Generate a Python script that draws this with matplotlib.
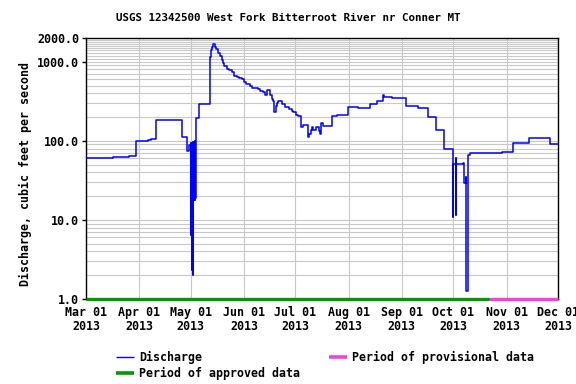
import pandas as pd
import matplotlib
matplotlib.use('Agg')
import matplotlib.pyplot as plt
import matplotlib.dates as mdates
from matplotlib.lines import Line2D
from matplotlib.ticker import FixedLocator, NullFormatter

# Discharge readings (time, cfs), drawn as steps
times = [
    "2013-03-01", "2013-03-17", "2013-03-21", "2013-03-22", "2013-03-24", "2013-03-25",
    "2013-03-26", "2013-03-30", "2013-04-06", "2013-04-08", "2013-04-11", "2013-04-26",
    "2013-04-29", "2013-04-30",
    # noisy gage readings, May 1-3
    "2013-05-01 00:00", "2013-05-01 01:00", "2013-05-01 02:00", "2013-05-01 04:00",
    "2013-05-01 06:00", "2013-05-01 08:00", "2013-05-01 10:00", "2013-05-01 12:00",
    "2013-05-01 14:00", "2013-05-01 16:00", "2013-05-01 18:00", "2013-05-01 20:00",
    "2013-05-01 21:00", "2013-05-01 23:00", "2013-05-02 01:00", "2013-05-02 03:00",
    "2013-05-02 05:00", "2013-05-02 07:00", "2013-05-02 09:00", "2013-05-02 11:00",
    "2013-05-02 13:00", "2013-05-02 15:00", "2013-05-02 17:00", "2013-05-02 19:00",
    "2013-05-02 21:00", "2013-05-02 23:00", "2013-05-03 01:00", "2013-05-03 03:00",
    "2013-05-03 05:00", "2013-05-03 07:00", "2013-05-03 09:00", "2013-05-03 11:00",
    "2013-05-03 13:00", "2013-05-03 15:00", "2013-05-03 17:00", "2013-05-03 19:00",
    "2013-05-03 21:00", "2013-05-04 00:00",
    "2013-05-06", "2013-05-07", "2013-05-12", "2013-05-12 20:00", "2013-05-13 14:00",
    "2013-05-14 06:00", "2013-05-15 06:00", "2013-05-15 20:00", "2013-05-16 16:00",
    "2013-05-18", "2013-05-19", "2013-05-20", "2013-05-20 14:00", "2013-05-22",
    "2013-05-23 12:00", "2013-05-25", "2013-05-26 06:00", "2013-05-27 20:00",
    "2013-05-29 06:00", "2013-05-30 16:00", "2013-06-01", "2013-06-02", "2013-06-04 14:00",
    "2013-06-06", "2013-06-09 10:00", "2013-06-10 10:00", "2013-06-12 06:00",
    "2013-06-13 06:00", "2013-06-14 06:00", "2013-06-16 06:00", "2013-06-17 06:00",
    "2013-06-18", "2013-06-18 16:00", "2013-06-19 12:00", "2013-06-20", "2013-06-21",
    "2013-06-23", "2013-06-25", "2013-06-27 12:00", "2013-06-28 20:00", "2013-06-29 20:00",
    "2013-07-01 10:00", "2013-07-02 16:00", "2013-07-04", "2013-07-05 16:00",
    "2013-07-08 14:00", "2013-07-09 04:00", "2013-07-10", "2013-07-10 20:00",
    "2013-07-11 12:00", "2013-07-12 20:00", "2013-07-15", "2013-07-15 10:00",
    "2013-07-15 20:00", "2013-07-17", "2013-07-22 04:00", "2013-07-25",
    "2013-07-31 20:00", "2013-08-06 16:00", "2013-08-13 12:00", "2013-08-17 10:00",
    "2013-08-21 06:00", "2013-08-21 12:00", "2013-08-26", "2013-08-31", "2013-09-03 12:00",
    "2013-09-10 16:00", "2013-09-16", "2013-09-21", "2013-09-25 14:00", "2013-09-27",
    "2013-10-01 00:00", "2013-10-01 02:00", "2013-10-02 14:00", "2013-10-02 16:00",
    "2013-10-02 18:00", "2013-10-06 12:00", "2013-10-07 12:00", "2013-10-08 12:00",
    "2013-10-08 14:00", "2013-10-09 18:00", "2013-10-09 20:00", "2013-10-10 12:00",
    "2013-10-29 06:00", "2013-11-05", "2013-11-13 20:00", "2013-11-26 10:00", "2013-12-01",
]
cfs = [
    60, 62, 63, 62, 63, 62,
    64, 101, 104, 107, 185, 113,
    75, 88,
    90, 6.5, 88, 22,
    94, 20, 92, 24,
    95, 21, 90, 2.3,
    91, 19, 93, 2.0,
    89, 20, 96, 2.1,
    94, 19, 97, 21,
    95, 18, 98, 20,
    96, 19, 99, 18,
    97, 22, 95, 19,
    96, 193,
    290, 295, 1160, 1410, 1560,
    1660, 1550, 1450, 1300,
    1200, 1060, 970, 890, 820,
    780, 750, 660, 648,
    620, 600, 560, 530, 500,
    462, 455, 430, 410,
    380, 440, 380, 340,
    315, 232, 275, 305, 322,
    295, 266, 255, 242, 230,
    215, 208, 148, 158,
    113, 122, 137, 148,
    137, 150, 133, 122,
    170, 155, 208, 215,
    270, 258, 292, 319,
    380, 362, 352, 345, 276,
    258, 199, 137, 80, 78,
    10.8, 51, 60, 11.5,
    51, 52, 29, 35,
    1.27, 1.65, 67, 70,
    72, 93, 108, 90, 90,
]

approved = ("2013-03-01", "2013-10-22")
provisional = ("2013-10-22", "2013-12-01")

month_ticks = pd.date_range("2013-03-01", "2013-12-01", freq="MS")
y_major = [1, 10, 100, 1000, 2000]
y_major_labels = ["1.0", "10.0", "100.0", "1000.0", "2000.0"]
y_minor = [m * 10 ** k for k in range(3) for m in range(2, 10)] + list(range(1100, 2000, 100))

mono = {"family": "DejaVu Sans Mono", "weight": "bold"}

fig = plt.figure(figsize=(5.76, 3.84), dpi=100)
ax = fig.add_axes([86 / 576, 1 - 299 / 384, 472 / 576, 261 / 384])

t = pd.to_datetime(times, format="mixed")
ax.plot(t, cfs, color="#0000ff", lw=1.1, drawstyle="steps-post", zorder=3)

# data quality periods along the bottom
ax.plot(pd.to_datetime(approved), [1, 1], color="#009900", lw=2.4, solid_capstyle="butt",
        clip_on=False, zorder=5)
ax.plot(pd.to_datetime(provisional), [1, 1], color="#ee44dd", lw=2.4, solid_capstyle="butt",
        clip_on=False, zorder=5)

ax.set_yscale("log")
ax.set_ylim(1, 2000)
ax.set_xlim(pd.Timestamp("2013-03-01"), pd.Timestamp("2013-12-01"))

ax.yaxis.set_major_locator(FixedLocator(y_major))
ax.set_yticklabels(y_major_labels, fontsize=8.4, **mono)
ax.yaxis.set_minor_locator(FixedLocator(y_minor))
ax.yaxis.set_minor_formatter(NullFormatter())
ax.tick_params(axis="y", which="major", length=3, width=1, pad=2)
ax.tick_params(axis="y", which="minor", length=0)

ax.set_xticks(month_ticks)
ax.xaxis.set_major_formatter(mdates.DateFormatter("%b %d\n%Y"))
for lab in ax.get_xticklabels():
    lab.set_fontsize(8.4)
    lab.set_fontfamily("DejaVu Sans Mono")
    lab.set_fontweight("bold")
    lab.set_linespacing(1.1)
ax.tick_params(axis="x", length=0, pad=5)

ax.grid(True, which="both", color="#c8c8c8", lw=0.8)
ax.set_axisbelow(True)
for s in ax.spines.values():
    s.set_linewidth(1.0)

fig.text(0.5, 1 - 18 / 384, "USGS 12342500 West Fork Bitterroot River nr Conner MT",
         ha="center", va="center", fontsize=7.8, **mono)
fig.text(25 / 576, 1 - 174 / 384, "Discharge, cubic feet per second", rotation=90,
         ha="center", va="center", fontsize=8.4, **mono)

# legend
def leg(x, y, color, lw, label):
    fig.add_artist(Line2D([x / 576, (x + 18) / 576], [1 - y / 384, 1 - y / 384],
                          color=color, lw=lw, solid_capstyle="butt"))
    fig.text((x + 23) / 576, 1 - y / 384, label, ha="left", va="center", fontsize=8.4, **mono)

leg(116, 357, "#0000ff", 1.0, "Discharge")
leg(116, 373, "#009900", 2.6, "Period of approved data")
leg(329, 357, "#ee44dd", 2.6, "Period of provisional data")

fig.savefig("out.png", dpi=100)
